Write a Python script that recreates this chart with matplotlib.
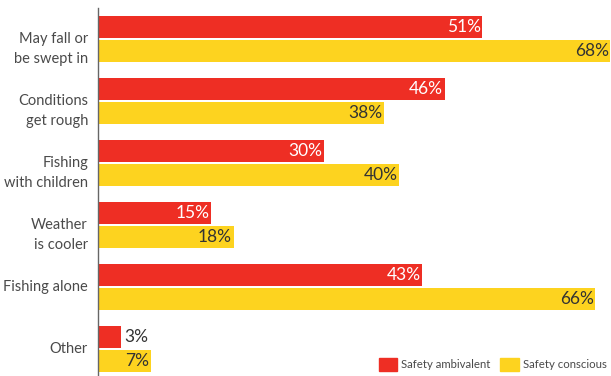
import matplotlib
matplotlib.use("Agg")
import matplotlib.pyplot as plt
from matplotlib.patches import Patch
from matplotlib.transforms import offset_copy

categories = ["May fall or\nbe swept in", "Conditions\nget rough", "Fishing\nwith children",
              "Weather\nis cooler", "Fishing alone", "Other"]
ambivalent = [51, 46, 30, 15, 43, 3]
conscious = [68, 38, 40, 18, 66, 7]
series_names = ["Safety ambivalent", "Safety conscious"]

RED = "#EE2E24"
YELLOW = "#FDD31F"
TEXT = "#4a4a4a"

plt.rcParams["font.family"] = ["Lato", "DejaVu Sans"]

fig = plt.figure(figsize=(6.11, 3.76), dpi=100)
ax = fig.add_axes([98 / 611, 0, 1 - 98 / 611, 1 - 8 / 376])

h = 22 / 62
off = 12 / 62
ys = list(range(len(categories)))

for vals, color, sign, txt_in in [(ambivalent, RED, -1, "white"), (conscious, YELLOW, 1, "#333333")]:
    yy = [y + sign * off for y in ys]
    ax.barh(yy, vals, height=h, color=color, linewidth=0)
    for y, v in zip(yy, vals):
        if v < 5:
            ax.text(v + 0.5, y, f"{v}%", va="center", ha="left", color="#333333", fontsize=12.5)
        else:
            ax.text(v - 0.2, y, f"{v}%", va="center", ha="right", color=txt_in, fontsize=12.5)

ax.set_xlim(0, 68.1)
ax.set_ylim(len(categories) - 1 + 27 / 62, -0.5)
ax.set_yticks([])
ax.set_xticks([])

# category labels; two-line labels sit a little below the group centre
label_tr = ax.get_yaxis_transform()
for y, cat in zip(ys, categories):
    dy = -10 if "\n" in cat else 0
    tr = offset_copy(label_tr, fig=fig, x=-10, y=dy, units="dots")
    ax.text(0, y, cat, transform=tr, ha="right", va="center", fontsize=10.5,
            color=TEXT, linespacing=1.5, multialignment="right")

for s in ["top", "right", "bottom"]:
    ax.spines[s].set_visible(False)
ax.spines["left"].set_color("#666666")
ax.spines["left"].set_linewidth(1)

handles = [Patch(color=RED, label=series_names[0]), Patch(color=YELLOW, label=series_names[1])]
fig.legend(handles=handles, loc="lower right", bbox_to_anchor=(1.0, 0.0), ncol=2, frameon=False,
           fontsize=8.2, handlelength=1.6, handleheight=1.5, handletextpad=0.35, columnspacing=0.9,
           labelcolor=TEXT, borderaxespad=0.2, borderpad=0.2)

fig.savefig("out.png", dpi=100)
